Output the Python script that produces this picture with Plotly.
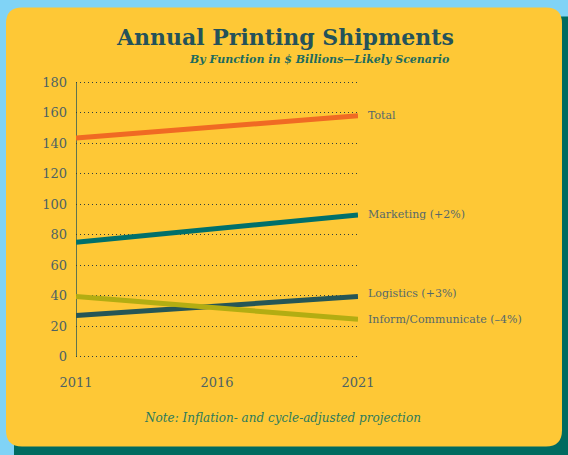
import plotly.graph_objects as go

years = [2011, 2016, 2021]
total = [143.5, 150.5, 158]
marketing = [75, 84, 93]
logistics = [27, 33, 39.5]
inform = [39.5, 32, 24.5]
series_names = ["Total", "Marketing (+2%)", "Logistics (+3%)", "Inform/Communicate (\u20134%)"]
series_values = [total, marketing, logistics, inform]
series_colors = ["#f06a23", "#00706b", "#265656", "#b3ad12"]
y_ticks = list(range(0, 181, 20))

W, H = 568, 455
Y0, Y180 = 357, 82
PAD = 1.5
ppu = (Y0 - Y180) / 180.0
L, R = 76, 358
T = Y180 - PAD * ppu
B = Y0 + PAD * ppu


def px(x):
    return (x - L) / (R - L)


def py(y):
    return (B - y) / (B - T)


def rounded_path(x0, y0, x1, y1, r):
    pts = [
        ("M", px(x0 + r), py(y0)),
        ("L", px(x1 - r), py(y0)),
        ("Q", px(x1), py(y0), px(x1), py(y0 + r)),
        ("L", px(x1), py(y1 - r)),
        ("Q", px(x1), py(y1), px(x1 - r), py(y1)),
        ("L", px(x0 + r), py(y1)),
        ("Q", px(x0), py(y1), px(x0), py(y1 - r)),
        ("L", px(x0), py(y0 + r)),
        ("Q", px(x0), py(y0), px(x0 + r), py(y0)),
    ]
    s = ""
    for p in pts:
        cmd = p[0]
        nums = p[1:]
        coords = " ".join(f"{nums[i]:.5f},{nums[i+1]:.5f}" for i in range(0, len(nums), 2))
        s += f"{cmd} {coords} "
    return s + "Z"


fig = go.Figure()
for name, vals, col in zip(series_names, series_values, series_colors):
    fig.add_trace(go.Scatter(x=years, y=vals, mode="lines", name=name,
                             line=dict(color=col, width=5), showlegend=False,
                             hoverinfo="skip"))

label_shift = {"Logistics (+3%)": 3, "Inform/Communicate (\u20134%)": 0}
for name, vals in zip(series_names, series_values):
    fig.add_annotation(x=years[-1], y=vals[-1], xref="x", yref="y", text=name,
                       showarrow=False, xanchor="left", yanchor="middle",
                       xshift=8, yshift=label_shift.get(name, 0),
                       font=dict(family="DejaVu Serif", size=11, color="#56686a"))

txt_col = "#4d6264"
fig.update_layout(
    width=W, height=H,
    margin=dict(l=L, r=W - R, t=T, b=H - B, pad=0),
    paper_bgcolor="#80d3f6",
    plot_bgcolor="rgba(0,0,0,0)",
    xaxis=dict(range=[2011, 2021], tickvals=years, ticktext=[str(y) for y in years],
               showgrid=False, zeroline=False, showline=False, ticks="",
               ticklabelstandoff=14,
               tickfont=dict(family="DejaVu Serif", size=13, color=txt_col)),
    yaxis=dict(range=[-PAD, 180 + PAD], tickvals=y_ticks, showgrid=True,
               gridcolor="#2f3f3f", griddash="1px,3px", gridwidth=1.2,
               zeroline=False, showline=False,
               ticks="", ticklabelstandoff=8,
               tickfont=dict(family="DejaVu Serif", size=13, color=txt_col)),
    shapes=[
        dict(type="path", xref="paper", yref="paper", layer="below",
             path=rounded_path(14, 16, 590, 470, 14), fillcolor="#006b60", line=dict(width=0)),
        dict(type="path", xref="paper", yref="paper", layer="below",
             path=rounded_path(6, 7, 562, 447, 16), fillcolor="#fec836", line=dict(width=0)),
        dict(type="line", xref="x", yref="y", x0=years[0], x1=years[0], y0=0, y1=180,
             layer="below", line=dict(color="#2b5757", width=1.5)),
    ],
)

fig.add_annotation(x=px(285), y=py(37), xref="paper", yref="paper",
                   text="<b>Annual Printing Shipments</b>", showarrow=False,
                   xanchor="center", yanchor="middle",
                   font=dict(family="DejaVu Serif", size=22, color="#24525a"))
fig.add_annotation(x=px(451), y=py(59), xref="paper", yref="paper",
                   text="<b><i>By Function in $ Billions\u2014Likely Scenario</i></b>",
                   showarrow=False, xanchor="right", yanchor="middle",
                   font=dict(family="DejaVu Serif", size=11, color="#1d6b5e"))
fig.add_annotation(x=px(282), y=py(418), xref="paper", yref="paper",
                   text="<i>Note: Inflation- and cycle-adjusted projection</i>",
                   showarrow=False, xanchor="center", yanchor="middle",
                   font=dict(family="DejaVu Serif", size=12, color="#2c7a5c"))

fig.write_html("out.html", config={"displayModeBar": False},
               post_script="document.body.style.margin='0';document.body.style.overflow='hidden';")
